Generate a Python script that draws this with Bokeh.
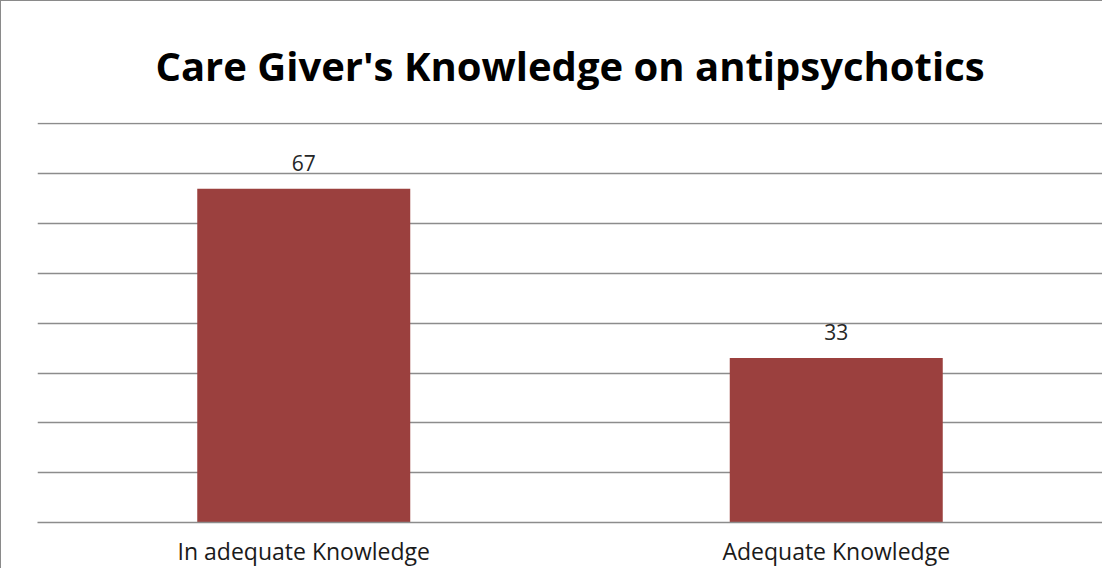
from bokeh.plotting import figure
from bokeh.models import ColumnDataSource, Range1d, FactorRange, LabelSet, SingleIntervalTicker
from bokeh.core.properties import value
from bokeh.embed import file_html
from bokeh.resources import INLINE

categories = ["In adequate Knowledge", "Adequate Knowledge"]
values = [67, 33]
labels = ["67", "33"]

src = ColumnDataSource(data=dict(cat=categories, val=values, lab=labels))

p = figure(width=1102, height=568, output_backend="svg", toolbar_location=None,
           x_range=FactorRange(*categories, range_padding=0), y_range=Range1d(0, 80.3),
           min_border_left=36, min_border_right=1, min_border_bottom=40, min_border_top=121)
p.styles = {"border-top": "1px solid #8a8a8a", "border-left": "1px solid #8a8a8a"}

p.title.text = "Care Giver's Knowledge on antipsychotics"
p.title.text_font = "Open Sans"
p.title.text_font_style = "bold"
p.title.text_font_size = "40px"
p.title.text_color = "#000000"
p.title.align = "center"
p.title.vertical_align = "top"
p.title.text_line_height = 0.62
p.title.standoff = 56

p.vbar(x="cat", top="val", width=0.4, source=src, fill_color="#9B403E", line_color=None)

p.add_layout(LabelSet(x="cat", y="val", text="lab", source=src, text_align="center",
                      text_baseline="alphabetic", y_offset=18, text_font=value("Open Sans"),
                      text_font_size="21px", text_color="#262626"))

p.yaxis.visible = False
p.ygrid.ticker = SingleIntervalTicker(interval=10)
p.ygrid.grid_line_color = "#8c8c8c"
p.ygrid.grid_line_width = 1.3
p.xgrid.visible = False
p.outline_line_color = None

p.xaxis.axis_line_color = "#8c8c8c"
p.xaxis.axis_line_width = 1.3
p.xaxis.major_tick_line_color = None
p.xaxis.minor_tick_line_color = None
p.xaxis.major_label_text_font = "Open Sans"
p.xaxis.major_label_text_font_size = "23px"
p.xaxis.major_label_text_color = "#1a1a1a"
p.xaxis.major_label_standoff = 6

open("out.html", "w").write(file_html(p, INLINE))
